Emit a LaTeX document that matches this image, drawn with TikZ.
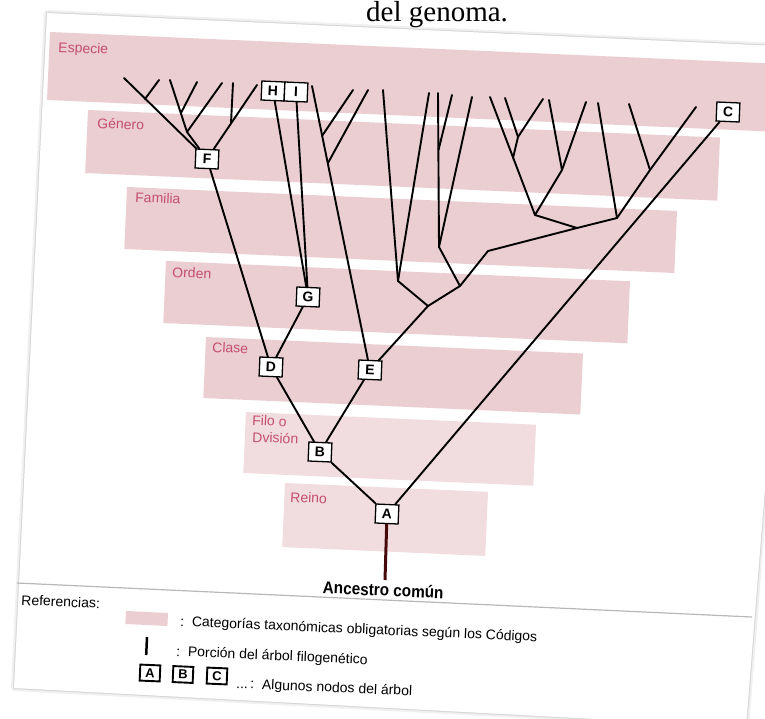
\documentclass[tikz,border=0pt]{standalone}
\usepackage{fontspec}
\setmainfont{Liberation Sans}
\newfontfamily\serifface{Liberation Serif}
\newfontfamily\narrowface[FakeStretch=0.9]{Liberation Sans}
\definecolor{bandpink}{RGB}{235,206,210}
\definecolor{bandpinklight}{RGB}{241,220,223}
\definecolor{bandtext}{RGB}{196,78,112}
\definecolor{stemcol}{RGB}{70,10,10}
\tikzset{
  tree/.style={line width=1.9pt, black, line cap=round, line join=round},
  stemline/.style={line width=3pt, stemcol},
  nodebox/.style={draw, line width=1.3pt, fill=white, minimum width=23pt, minimum height=19pt,
    inner sep=0pt, font=\fontsize{14}{14}\selectfont\bfseries, rotate=-2.5},
  legbox/.style={draw, line width=1.9pt, fill=white, minimum width=20pt, minimum height=16pt,
    inner sep=0pt, font=\fontsize{13}{13}\selectfont\bfseries, rotate=-2.5},
  bandlabel/.style={anchor=base west, text=bandtext, font=\fontsize{14}{14}\selectfont,
    rotate=-2.5, inner sep=0pt},
  legend/.style={anchor=base west, font=\fontsize{14}{14}\selectfont, rotate=-2.5, inner sep=0pt},
}
\begin{document}
\begin{tikzpicture}[x=1pt,y=-1pt]
\useasboundingbox (0,0) rectangle (765,719);
\clip (0,0) rectangle (765,719);
% page sheet with shadow
\draw[line width=6pt, black!6, line join=round] (47,13) -- (800,47) -- (746,727) -- (14,688) -- cycle;
\draw[line width=2pt, black!16, line join=round] (47,13) -- (800,47) -- (746,727) -- (14,688) -- cycle;
\fill[white] (47,13) -- (800,47) -- (746,727) -- (14,688) -- cycle;
% text of the page behind
\node[anchor=base west, font=\serifface\fontsize{29}{29}\selectfont, inner sep=0pt] (genoma) at (366,22) {del genoma.};
% taxonomic bands
\fill[bandpink] (50,32) -- (790,64.3) -- (787,132.3) -- (47,100) -- cycle;
\fill[bandpink] (88,110) -- (720,137.6) -- (717.2,200.6) -- (85.2,173) -- cycle;
\fill[bandpink] (127,187) -- (677,211) -- (674.3,273) -- (124.3,249) -- cycle;
\fill[bandpink] (166,261) -- (630,281.3) -- (627.3,343.3) -- (163.3,323) -- cycle;
\fill[bandpink] (206,337) -- (583,353.5) -- (580.3,414.5) -- (203.3,398) -- cycle;
\fill[bandpinklight] (246,412) -- (536,424.7) -- (533.3,485.7) -- (243.3,473) -- cycle;
\fill[bandpinklight] (285,483) -- (488,491.9) -- (485.2,555.9) -- (282.2,547) -- cycle;
% band labels
\node[bandlabel] (lEsp) at (58,52) {Especie};
\node[bandlabel] (lGen) at (97,128) {Género};
\node[bandlabel] (lFam) at (135,202) {Familia};
\node[bandlabel] (lOrd) at (172,277) {Orden};
\node[bandlabel] (lCla) at (212,352) {Clase};
\node[bandlabel] (lFil) at (252,425) {Filo o};
\node[bandlabel] (lDiv) at (252,442) {Dvisión};
\node[bandlabel] (lRei) at (290,502) {Reino};
% tree nodes
\node[nodebox] (A) at (387,514) {A};
\node[nodebox] (B) at (320,452) {B};
\node[nodebox] (C) at (728,112) {C};
\node[nodebox] (D) at (271,367) {D};
\node[nodebox] (E) at (370,370) {E};
\node[nodebox] (F) at (207,159) {F};
\node[nodebox] (G) at (308,297) {G};
% coordinates of the tree
\coordinate (anc) at (385,580);
\coordinate (f1) at (124,78);   \coordinate (f1b) at (145,99);   \coordinate (f1bt) at (159,80);
\coordinate (fj) at (187,132);  \coordinate (fj1) at (170,80);   \coordinate (fj1b) at (181,113);
\coordinate (fj1bt) at (197,82); \coordinate (fj2) at (222,83);
\coordinate (fr) at (257,85);   \coordinate (frb) at (231,123);  \coordinate (frbt) at (233,83);
\coordinate (e1) at (312,86);   \coordinate (e1a) at (322,136);  \coordinate (e1at) at (353,90);
\coordinate (e1b) at (328,163); \coordinate (e1bt) at (368,90);
\coordinate (k1) at (428,306);  \coordinate (v1) at (398,281);   \coordinate (v1a) at (383,90);
\coordinate (v1b) at (429,93);  \coordinate (k2) at (460,286);   \coordinate (v2) at (439,247);
\coordinate (v2a) at (438,93);  \coordinate (m) at (438.5,150);  \coordinate (ma) at (452,95);
\coordinate (v2b) at (472,97);  \coordinate (k3) at (488,251);   \coordinate (j3) at (577,228);
\coordinate (p) at (535,215);   \coordinate (r) at (513,158);    \coordinate (rt) at (490,97);
\coordinate (s) at (518,137);   \coordinate (sa) at (505,98);    \coordinate (sb) at (543,99);
\coordinate (u) at (562,170);   \coordinate (ua) at (549,100);   \coordinate (ub) at (586,102);
\coordinate (q) at (617,218);   \coordinate (qt) at (598,103);   \coordinate (w) at (650,170);
\coordinate (wa) at (629,104);  \coordinate (wb) at (696,107);
% connectors
\draw[stemline] (A) -- (anc);
\draw[tree] (A) -- (B);
\draw[tree] (A) -- (C);
\draw[tree] (B) -- (D);
\draw[tree] (B) -- (E);
\draw[tree] (D) -- (F);
\draw[tree] (D) -- (G);
% F clade
\draw[tree] (F) -- (f1);
\draw[tree] (f1b) -- (f1bt);
\draw[tree] (F) -- (fj) -- (fj1);
\draw[tree] (fj1b) -- (fj1bt);
\draw[tree] (fj) -- (fj2);
\draw[tree] (F) -- (fr);
\draw[tree] (frb) -- (frbt);
% E clade
\draw[tree] (E) -- (e1);
\draw[tree] (e1a) -- (e1at);
\draw[tree] (e1b) -- (e1bt);
\draw[tree] (E) -- (k1) -- (v1) -- (v1a);
\draw[tree] (v1) -- (v1b);
\draw[tree] (k1) -- (k2) -- (v2) -- (v2a);
\draw[tree] (m) -- (ma);
\draw[tree] (v2) -- (v2b);
\draw[tree] (k2) -- (k3) -- (j3) -- (p) -- (rt);
\draw[tree] (r) -- (s) -- (sa);
\draw[tree] (s) -- (sb);
\draw[tree] (p) -- (u) -- (ua);
\draw[tree] (u) -- (ub);
\draw[tree] (j3) -- (q) -- (qt);
\draw[tree] (q) -- (w) -- (wa);
\draw[tree] (w) -- (wb);
% H and I (drawn on top)
\node[nodebox] (H) at (273,91) {H};
\node[nodebox] (I) at (296,92) {I};
\draw[tree] (G) -- (H);
\draw[tree] (G) -- (I);
% ancestor label and separator
\node[anchor=base, font=\narrowface\bfseries\fontsize{17}{17}\selectfont, rotate=-2.5, inner sep=0pt] (anclabel) at (383,596) {Ancestro común};
\coordinate (sep1) at (17,583);
\coordinate (sep2) at (752,617);
\draw[line width=1.2pt, black!28] (sep1) -- (sep2);
% legend
\node[legend] (ref) at (21,605) {Referencias:};
\fill[bandpink] (126,611) -- (168,613) -- (167.4,626) -- (125.4,624) -- cycle;
\node[legend] (leg1) at (180,626) {:\ \ Categorías taxonómicas obligatorias según los Códigos};
\coordinate (bar1) at (147,637);
\coordinate (bar2) at (146.2,655);
\draw[line width=2.5pt] (bar1) -- (bar2);
\node[legend] (leg2) at (176,656) {:\ \ Porción del árbol filogenético};
\node[legbox] (la) at (150,673) {A};
\node[legbox] (lb) at (183,674.5) {B};
\node[legbox] (lc) at (217,676) {C};
\node[legend] (leg3) at (236,688) {...\,:\ \ Algunos nodos del árbol};
\end{tikzpicture}
\end{document}
